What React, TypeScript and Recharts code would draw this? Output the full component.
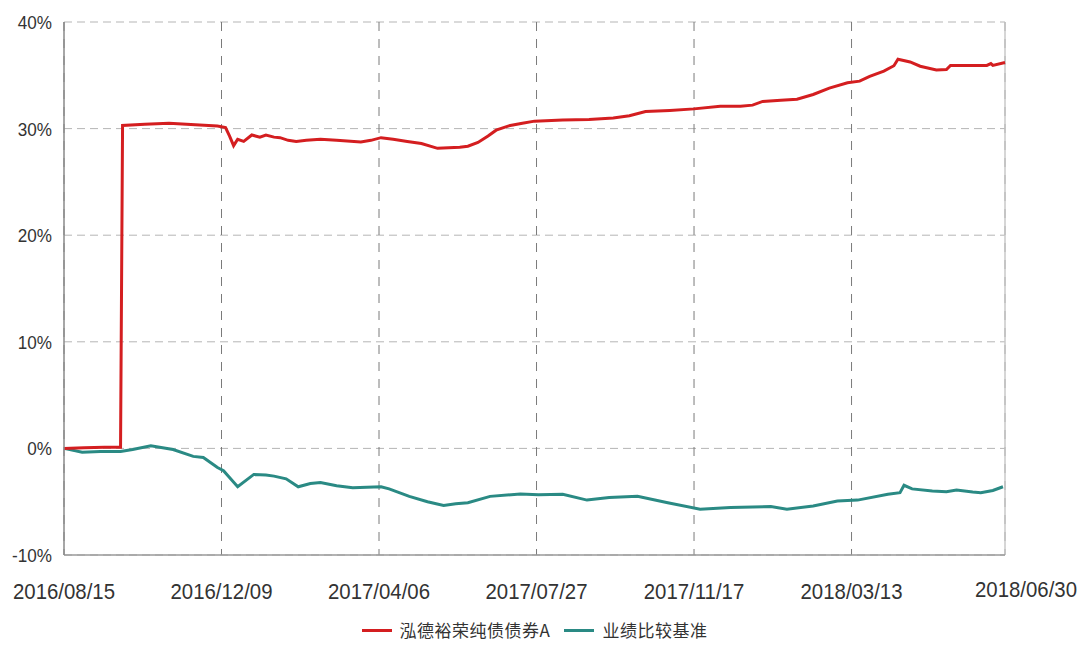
import React from "react";
import { LineChart, Line, XAxis, YAxis, CartesianGrid, Legend, ReferenceLine } from "recharts";

// x = trading-day index since 2016/08/15
const xTickDays = [0, 78, 156, 234, 312, 390, 466];
const xTickLabels = ["2016/08/15", "2016/12/09", "2017/04/06", "2017/07/27", "2017/11/17", "2018/03/13", "2018/06/30"];
const yTicks = [-10, 0, 10, 20, 30, 40];

const fundName = "泓德裕荣纯债债券A";
const benchName = "业绩比较基准";

const fundDays = [0, 10, 20, 28, 29, 40, 52, 65, 76, 80, 82, 84, 86, 89, 93, 97, 100, 104, 107, 111, 115, 120, 127, 135, 147, 152, 157, 163, 170, 177, 185, 196, 200, 205, 210, 214, 221, 227, 233, 247, 260, 272, 280, 288, 300, 312, 325, 335, 341, 346, 355, 363, 371, 379, 388, 394, 399, 406, 411, 413, 419, 424, 432, 437, 439, 457, 459, 460, 466];
const fundValues = [0, 0.05, 0.1, 0.1, 30.3, 30.4, 30.5, 30.35, 30.25, 30.1, 29.3, 28.4, 29.0, 28.8, 29.4, 29.2, 29.4, 29.2, 29.15, 28.9, 28.8, 28.9, 29.0, 28.9, 28.75, 28.9, 29.15, 29.0, 28.8, 28.6, 28.15, 28.25, 28.35, 28.7, 29.3, 29.85, 30.3, 30.5, 30.7, 30.8, 30.85, 31.0, 31.2, 31.6, 31.7, 31.85, 32.1, 32.1, 32.2, 32.55, 32.65, 32.75, 33.2, 33.8, 34.3, 34.45, 34.9, 35.4, 35.9, 36.5, 36.25, 35.85, 35.5, 35.55, 35.93, 35.93, 36.1, 35.93, 36.2];

const benchDays = [0, 9, 18, 28, 34, 43, 54, 64, 69, 76, 79, 86, 94, 100, 104, 110, 116, 122, 127, 135, 143, 157, 161, 171, 180, 188, 194, 200, 211, 226, 235, 247, 259, 270, 284, 299, 315, 330, 350, 358, 371, 383, 393, 408, 414, 416, 420, 430, 437, 442, 450, 454, 460, 465];
const benchValues = [0, -0.35, -0.3, -0.3, -0.1, 0.25, -0.1, -0.75, -0.85, -1.8, -2.1, -3.6, -2.44, -2.5, -2.6, -2.85, -3.6, -3.3, -3.2, -3.5, -3.7, -3.6, -3.8, -4.5, -5.0, -5.35, -5.2, -5.1, -4.5, -4.27, -4.35, -4.3, -4.85, -4.6, -4.5, -5.1, -5.7, -5.55, -5.46, -5.7, -5.4, -4.94, -4.85, -4.3, -4.15, -3.46, -3.8, -4.0, -4.07, -3.9, -4.1, -4.15, -3.95, -3.6];

const fundData = fundDays.map((d, i) => ({ d, v: fundValues[i] }));
const benchData = benchDays.map((d, i) => ({ d, v: benchValues[i] }));

const RED = "#d41e20";
const TEAL = "#2a8a84";
const TEXT = "#333333";
const FONT = "'Liberation Sans', Arial, sans-serif";

const XTick = (props: any) => {
  const { x, y, payload, index } = props;
  const last = index === xTickDays.length - 1;
  const tx = x + (last ? 21 : 0);
  const ty = y + (last ? 34 : 36);
  return (
    <text
      transform={`translate(${tx},${ty}) scale(0.887,1)`}
      x={0}
      y={0}
      textAnchor="middle"
      fill={TEXT}
      fontSize={23}
      fontFamily={FONT}
    >
      {xTickLabels[xTickDays.indexOf(payload.value)]}
    </text>
  );
};

const YTick = (props: any) => {
  const { x, y, payload } = props;
  return (
    <text
      transform={`translate(${x - 4},${y + 7}) scale(0.9,1)`}
      x={0}
      y={0}
      textAnchor="end"
      fill={TEXT}
      fontSize={19}
      fontFamily={FONT}
    >
      {`${payload.value}%`}
    </text>
  );
};

const LegendContent = () => (
  <div
    style={{
      display: "flex",
      justifyContent: "center",
      alignItems: "center",
      marginLeft: 64,
      width: 941,
      paddingTop: 6,
      fontFamily: "'Noto Sans CJK SC', sans-serif",
      fontSize: 17,
      color: TEXT,
    }}
  >
    {[
      { name: fundName, color: RED },
      { name: benchName, color: TEAL },
    ].map((it, i) => (
      <div key={i} style={{ display: "flex", alignItems: "center", marginRight: i === 0 ? 14 : 0 }}>
        <div style={{ width: 30, height: 3, background: it.color, marginRight: 8 }} />
        <span style={{ letterSpacing: 0.5, lineHeight: "20px" }}>{it.name}</span>
      </div>
    ))}
  </div>
);

export default function App() {
  return (
    <div style={{ position: "absolute", left: 0, top: 0, width: 1081, height: 649, background: "#fff" }}>
      <LineChart width={1081} height={649} margin={{ top: 22, right: 76, bottom: 5, left: 0 }}>
        <CartesianGrid horizontal={true} vertical={false} stroke="#b5b5b5" strokeDasharray="8 5" />
        <CartesianGrid horizontal={false} vertical={true} stroke="#7a7a7a" strokeDasharray="9 8" />
        <XAxis
          type="number"
          dataKey="d"
          domain={[0, 466]}
          ticks={xTickDays}
          interval={0}
          tickLine={false}
          axisLine={{ stroke: "#9a9a9a", strokeWidth: 1.5 }}
          height={59}
          tick={<XTick />}
          allowDuplicatedCategory={false}
        />
        <YAxis
          type="number"
          domain={[-10, 40]}
          ticks={yTicks}
          interval={0}
          width={64}
          tickLine={false}
          axisLine={{ stroke: "#8a8a8a", strokeWidth: 1.5 }}
          tick={<YTick />}
        />
        <ReferenceLine x={466} stroke="#c8c8c8" strokeWidth={1.5} ifOverflow="extendDomain" />
        <Legend verticalAlign="bottom" height={30} content={<LegendContent />} wrapperStyle={{ left: 0, width: 1081 }} />
        <Line
          data={benchData}
          dataKey="v"
          name={benchName}
          type="linear"
          stroke={TEAL}
          strokeWidth={3}
          dot={false}
          isAnimationActive={false}
        />
        <Line
          data={fundData}
          dataKey="v"
          name={fundName}
          type="linear"
          stroke={RED}
          strokeWidth={3}
          dot={false}
          isAnimationActive={false}
        />
      </LineChart>
    </div>
  );
}
